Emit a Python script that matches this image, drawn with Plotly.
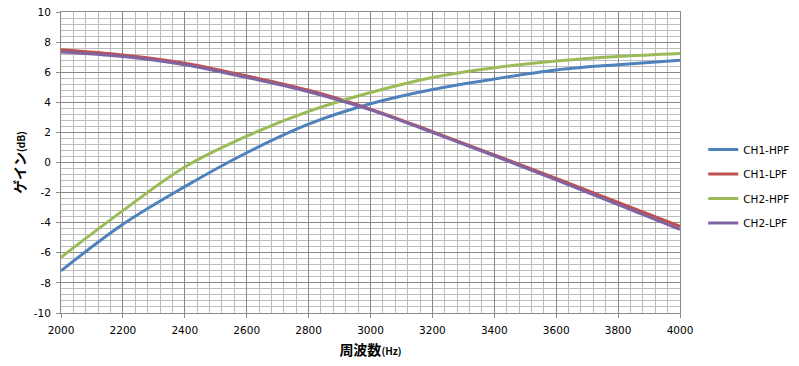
import plotly.graph_objects as go

freq = [2000, 2200, 2400, 2600, 2800, 3000, 3200, 3400, 3600, 3800, 4000]
ch1_hpf = [-7.2, -4.1, -1.6, 0.65, 2.55, 3.9, 4.85, 5.55, 6.15, 6.5, 6.8]
ch1_lpf = [7.5, 7.15, 6.6, 5.75, 4.8, 3.55, 2.05, 0.5, -1.05, -2.65, -4.25]
ch2_hpf = [-6.3, -3.2, -0.3, 1.75, 3.4, 4.65, 5.65, 6.3, 6.75, 7.05, 7.25]
ch2_lpf = [7.35, 7.05, 6.5, 5.65, 4.7, 3.5, 2.0, 0.45, -1.15, -2.8, -4.45]

x_ticks = [2000, 2200, 2400, 2600, 2800, 3000, 3200, 3400, 3600, 3800, 4000]
x_tick_text = ["2000", "2200", "2400", "2600", "2800", "3000", "3200", "3400", "3600", "3800", "4000"]
y_ticks = [-10, -8, -6, -4, -2, 0, 2, 4, 6, 8, 10]
y_tick_text = ["-10", "-8", "-6", "-4", "-2", "0", "2", "4", "6", "8", "10"]

series = [
    ("CH1-HPF", ch1_hpf, "#4F81BD"),
    ("CH1-LPF", ch1_lpf, "#C0504D"),
    ("CH2-HPF", ch2_hpf, "#9BBB59"),
    ("CH2-LPF", ch2_lpf, "#8064A2"),
]

fig = go.Figure()
for name, vals, color in series:
    fig.add_trace(go.Scatter(
        x=freq, y=vals, name=name, mode="lines",
        line=dict(color=color, width=3, shape="spline", smoothing=1.0),
        legendgroup=name,
    ))

major = "#8a8a8a"
minor = "#bdbdbd"
tickfont = dict(family="DejaVu Sans", size=10.5, color="#000000")

fig.update_layout(
    width=799, height=366,
    margin=dict(l=61, r=119, t=12, b=53),
    paper_bgcolor="white", plot_bgcolor="white",
    font=dict(family="DejaVu Sans", size=10.5, color="#000000"),
    legend=dict(
        xref="container", yref="paper",
        x=0.994, xanchor="right", y=0.42, yanchor="middle",
        font=dict(family="DejaVu Sans", size=10.5, color="#000000"),
        tracegroupgap=5.5,
        bgcolor="rgba(0,0,0,0)",
    ),
    xaxis=dict(
        range=[2000, 4000], tickmode="array", tickvals=x_ticks, ticktext=x_tick_text,
        showgrid=True, gridcolor=major, gridwidth=1,
        minor=dict(dtick=40, tick0=2000, showgrid=True, gridcolor=minor, gridwidth=1),
        ticks="outside", ticklen=4, tickcolor=major, ticklabelstandoff=3,
        ticklabeloverflow="allow",
        showline=True, linecolor=major, linewidth=1, mirror=True,
        zeroline=False, tickfont=tickfont, automargin=False,
        title=dict(
            text="<b>周波数<span style='font-size:10px'>(Hz)</span></b>",
            font=dict(family="Noto Sans CJK JP", size=14, color="#000000"),
            standoff=10,
        ),
    ),
    yaxis=dict(
        range=[-10, 10], tickmode="array", tickvals=y_ticks, ticktext=y_tick_text,
        showgrid=True, gridcolor=major, gridwidth=1,
        minor=dict(dtick=0.4, tick0=-10, showgrid=True, gridcolor=minor, gridwidth=1),
        ticks="outside", ticklen=4, tickcolor=major, ticklabelstandoff=3,
        ticklabeloverflow="allow",
        showline=True, linecolor=major, linewidth=1, mirror=True,
        zeroline=False, tickfont=tickfont, automargin=False,
        title=dict(
            text="<b>ゲイン<span style='font-size:10px'>(dB)</span></b>",
            font=dict(family="Noto Sans CJK JP", size=14, color="#000000"),
            standoff=4,
        ),
    ),
)

# remove the page's default 8px body margin so the figure fills the window exactly
fig.write_html(
    "out.html",
    config={"displayModeBar": False},
    post_script="document.body.style.margin='0';",
)
